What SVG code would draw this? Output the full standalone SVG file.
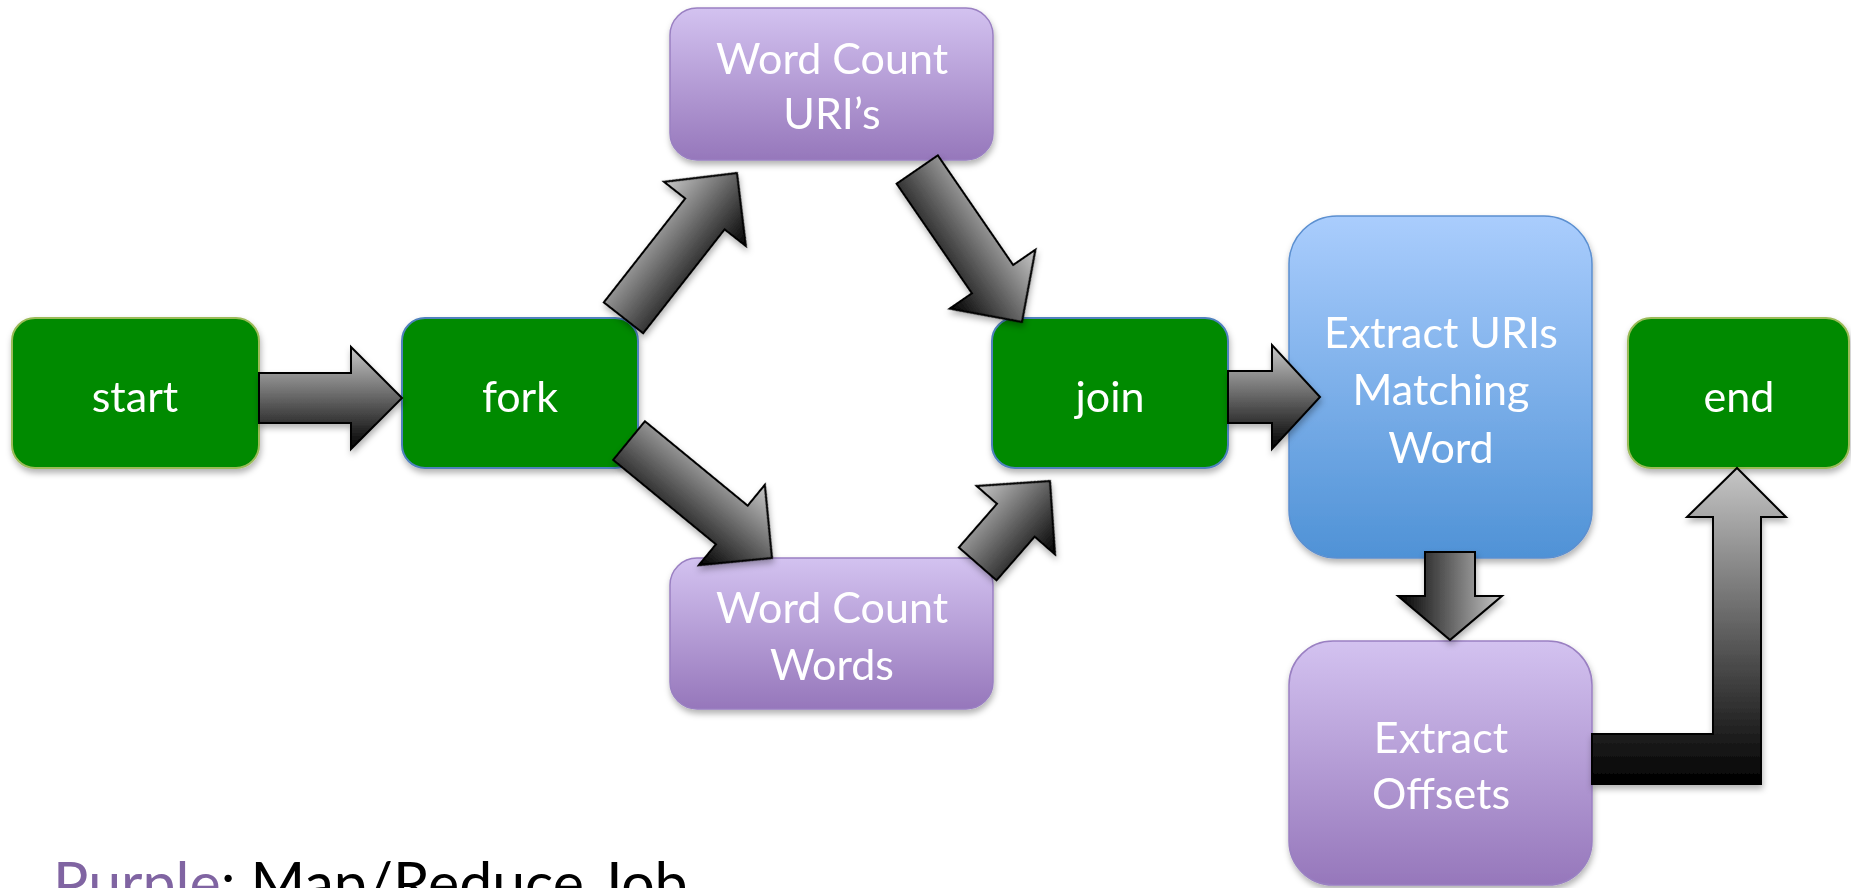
<svg xmlns="http://www.w3.org/2000/svg" width="1851" height="888" viewBox="0 0 1851 888">
  <defs>
    <style>
      .lbl { font-family: "Lato", "Open Sans", sans-serif; font-size: 43px; fill: #ffffff; text-anchor: middle; }
      .green { fill: #008a00; stroke-width: 2; }
      .gA { stroke: #9bbb59; }
      .gB { stroke: #4f81bd; }
      .purple { fill: url(#purpleGrad); stroke: #9a80c2; stroke-width: 1.5; }
      .blue { fill: url(#blueGrad); stroke: #5b8fd0; stroke-width: 1.5; }
      .arrow { fill: url(#arrowGrad); stroke: #000; stroke-width: 2; stroke-linejoin: miter; }
      .legend { font-family: "Lato", "Open Sans", sans-serif; font-size: 59px; fill: #000; }
    </style>
    <linearGradient id="purpleGrad" x1="0" y1="0" x2="0" y2="1">
      <stop offset="0" stop-color="#d3c2f0"/>
      <stop offset="1" stop-color="#9677bb"/>
    </linearGradient>
    <linearGradient id="blueGrad" x1="0" y1="0" x2="0" y2="1">
      <stop offset="0" stop-color="#aacdfd"/>
      <stop offset="1" stop-color="#4f92d6"/>
    </linearGradient>
    <linearGradient id="arrowGrad" x1="0" y1="0" x2="0" y2="1">
      <stop offset="0" stop-color="#c8c8c8"/>
      <stop offset="1" stop-color="#000000"/>
    </linearGradient>
    <linearGradient id="elbowGrad" gradientUnits="userSpaceOnUse" x1="0" y1="468" x2="0" y2="784">
      <stop offset="0" stop-color="#c6c6c6"/>
      <stop offset="1" stop-color="#000000"/>
    </linearGradient>
    <filter id="shadow" x="-10%" y="-10%" width="125%" height="130%">
      <feDropShadow dx="1" dy="4" stdDeviation="3" flood-color="#000" flood-opacity="0.3"/>
    </filter>
  </defs>

  <rect width="1851" height="888" fill="#ffffff"/>

  <g id="start" filter="url(#shadow)">
    <rect class="green gA" x="12" y="318" width="247" height="150" rx="23"/>
    <text class="lbl" x="135" y="412">start</text>
  </g>
  <g id="fork" filter="url(#shadow)">
    <rect class="green gB" x="402" y="318" width="236" height="150" rx="23"/>
    <text class="lbl" x="520" y="412">fork</text>
  </g>
  <g id="join" filter="url(#shadow)">
    <rect class="green gB" x="992" y="318" width="236" height="150" rx="23"/>
    <text class="lbl" x="1110" y="412">join</text>
  </g>
  <g id="end" filter="url(#shadow)">
    <rect class="green gA" x="1628" y="318" width="221" height="150" rx="23"/>
    <text class="lbl" x="1739" y="412">end</text>
  </g>
  <g id="wc-uris" filter="url(#shadow)">
    <rect class="purple" x="670" y="8" width="323" height="152" rx="27"/>
    <text class="lbl" x="832" y="74">Word Count</text>
    <text class="lbl" x="832" y="129">URI’s</text>
  </g>
  <g id="wc-words" filter="url(#shadow)">
    <rect class="purple" x="670" y="558" width="323" height="151" rx="27"/>
    <text class="lbl" x="832" y="623">Word Count</text>
    <text class="lbl" x="832" y="680">Words</text>
  </g>
  <g id="extract-uris" filter="url(#shadow)">
    <rect class="blue" x="1289" y="216" width="303" height="342" rx="48"/>
    <text class="lbl" x="1441" y="348">Extract URIs</text>
    <text class="lbl" x="1441" y="405">Matching</text>
    <text class="lbl" x="1441" y="463">Word</text>
  </g>
  <g id="extract-offsets" filter="url(#shadow)">
    <rect class="purple" x="1289" y="641" width="303" height="244" rx="44"/>
    <text class="lbl" x="1441" y="753">Extract</text>
    <text class="lbl" x="1441" y="809">Offsets</text>
  </g>

  <g id="connectors" filter="url(#shadow)">
    <polygon class="arrow" transform="translate(402,398)" points="0,0 -51,-51 -51,-25 -143,-25 -143,25 -51,25 -51,51"/>
    <polygon class="arrow" transform="translate(737,173) rotate(-51.9)" points="0,0 -52,-52 -52,-25 -184,-25 -184,25 -52,25 -52,52"/>
    <polygon class="arrow" transform="translate(1022,322) rotate(55.5)" points="0,0 -52,-52 -52,-25 -185,-25 -185,25 -52,25 -52,52"/>
    <polygon class="arrow" transform="translate(772,558) rotate(39.4)" points="0,0 -52,-52 -52,-25 -185,-25 -185,25 -52,25 -52,52"/>
    <polygon class="arrow" transform="translate(1050,481) rotate(-48.9)" points="0,0 -52,-52 -52,-25 -110,-25 -110,25 -52,25 -52,52"/>
    <polygon class="arrow" transform="translate(1320,397)" points="0,0 -48,-52 -48,-26 -92,-26 -92,26 -48,26 -48,52"/>
    <polygon class="arrow" transform="translate(1450,640) rotate(90)" points="0,0 -44,-52 -44,-25 -88,-25 -88,25 -44,25 -44,52"/>
    <polygon fill="url(#elbowGrad)" stroke="#000" stroke-width="2" points="1592,734 1713,734 1713,517 1687,517 1737,468 1786,517 1761,517 1761,784 1592,784"/>
  </g>

  <text class="legend" x="53" y="904"><tspan fill="#8064a2">Purple</tspan>: Map/Reduce Job</text>
</svg>
